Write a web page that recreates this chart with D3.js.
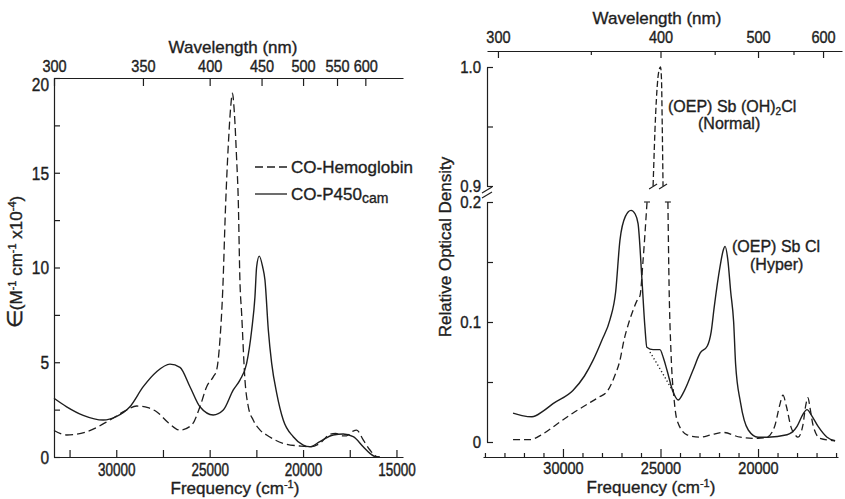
<!DOCTYPE html>
<html>
<head>
<meta charset="utf-8">
<script src="https://cdn.jsdelivr.net/npm/d3@7"></script>
<style>
  body { margin: 0; background: #fff; }
  svg { display: block; background: #fff; }
  text { stroke: #1e1e1e; stroke-width: 0.35px; }
</style>
</head>
<body>
<svg id="chart" width="845" height="499"></svg>
<script>
// ---------- data (frequency in cm-1, value) ----------
// left panel: extinction coefficient (M-1 cm-1 x 10^-4)
const nmTicksLeft = [300, 350, 400, 450, 500, 550, 600]
const freqTicksLeft = [32500, 30000, 27500, 25000, 22500, 20000, 17500, 15000]
const epsTicks = [0, 2.5, 5, 7.5, 10, 12.5, 15, 17.5, 20]

const coHemoglobin = [
	[33333, 1.4], [32655, 1.16], [31585, 1.33], [30340, 1.95], [29500, 2.45], [28910, 2.69],
	[28300, 2.6], [27840, 2.39], [27200, 1.8], [26590, 1.42], [25960, 1.69], [25520, 2.65],
	[25160, 3.71], [24800, 4.24], [24625, 4.59], [24450, 6.17], [24300, 8.8], [24150, 13.2],
	[24000, 16.5], [23880, 18.4], [23780, 19.2], [23680, 18.2], [23560, 15.8], [23470, 13.6],
	[23380, 9.3], [23290, 7.6], [23110, 4.06], [22930, 2.65], [22670, 1.95], [22300, 1.42],
	[21950, 1.16], [21060, 0.72], [20170, 0.58], [19630, 0.54], [19100, 0.72], [18570, 1.2],
	[18250, 1.25], [17900, 1.12], [17670, 1.12], [17350, 1.35], [17130, 1.42], [16780, 0.9],
	[16420, 0.37], [16060, 0.02], [15900, 0]
]

const coP450cam = [
	[33333, 3.1], [32655, 2.65], [31770, 2.2], [30700, 1.95], [30000, 2.13], [29270, 2.65],
	[28555, 3.71], [27840, 4.5], [27125, 4.9], [26590, 4.73], [26055, 3.71], [25520, 2.65],
	[24810, 2.22], [24270, 2.48], [23735, 3.54], [23380, 4.06], [23020, 4.94], [22750, 6.7],
	[22575, 8.46], [22485, 10.04], [22345, 10.6], [22165, 10.04], [22040, 9.34], [21860, 6.7],
	[21680, 4.94], [21410, 3.36], [21060, 1.95], [20525, 1.07], [19990, 0.63], [19630, 0.54],
	[19100, 0.81], [18385, 1.16], [17850, 1.21], [17315, 1.07], [16780, 0.54], [16420, 0.19],
	[16060, 0], [15900, 0]
]

// right panel: relative optical density
const nmTicksRight = [300, 350, 400, 450, 500, 550, 600]
const freqTicksRight = [34000, 33000, 32000, 31000, 30000, 29000, 28000, 27000, 26000, 25000,
	24000, 23000, 22000, 21000, 20000, 19000, 18000, 17000, 16000]
const odTicksLow = [0, 0.05, 0.1, 0.15, 0.2]
const odTicksHigh = [0.9, 0.95, 1.0]

const sbClHyper = [
	[32560, 0.024], [32100, 0.022], [31590, 0.021], [31000, 0.026], [30510, 0.032], [29490, 0.043],
	[28900, 0.055], [28460, 0.068], [28000, 0.085], [27590, 0.102], [27300, 0.125], [27080, 0.168],
	[26800, 0.188], [26510, 0.193], [26300, 0.19], [26150, 0.182], [25950, 0.135], [25800, 0.096],
	[25700, 0.079], [25380, 0.077], [25030, 0.077], [24850, 0.07], [24670, 0.06], [24360, 0.042],
	[24100, 0.035], [23800, 0.042], [23330, 0.06], [22970, 0.074], [22600, 0.08], [22400, 0.092],
	[22250, 0.112], [21950, 0.146], [21780, 0.16], [21690, 0.163], [21550, 0.152], [21400, 0.125],
	[21250, 0.1], [21150, 0.065], [20900, 0.033], [20500, 0.01], [20000, 0.004], [19500, 0.004],
	[18510, 0.006], [18000, 0.013], [17700, 0.023], [17490, 0.027], [17250, 0.022], [16920, 0.013],
	[16460, 0.004], [16050, 0.001]
]

const sbOHClNormalLeft = [
	[32560, 0.002], [31700, 0.002], [31000, 0.007], [30300, 0.015], [29500, 0.024], [28800, 0.031],
	[28200, 0.037], [27740, 0.042], [27350, 0.055], [27080, 0.068], [26870, 0.085], [26670, 0.097],
	[26400, 0.11], [26200, 0.118], [26050, 0.122], [25900, 0.15], [25690, 0.2]
]
const sbOHClNormalPeak = [
	[25380, 0.9], [25250, 0.96], [25100, 0.995], [25000, 1.0], [24950, 0.99], [24910, 0.95], [24870, 0.9]
]
const sbOHClNormalRight = [
	[24620, 0.2], [24560, 0.13], [24460, 0.074], [24300, 0.035], [24150, 0.018], [23640, 0.006],
	[23000, 0.004], [22400, 0.006], [21800, 0.008], [20900, 0.004], [20000, 0.003], [19540, 0.004],
	[19130, 0.014], [18900, 0.03], [18720, 0.039], [18550, 0.03], [18300, 0.012], [18100, 0.006],
	[17950, 0.004], [17700, 0.014], [17560, 0.03], [17440, 0.037], [17330, 0.028], [17180, 0.014],
	[16820, 0.003], [16050, 0.001]
]
const sbOHClDotted = [[25540, 0.075], [24920, 0.058], [24360, 0.042]]

// ---------- drawing ----------
const ink = '#1e1e1e'
const font = '"Liberation Sans", Arial, Helvetica, sans-serif'
const svg = d3.select('#chart').style('color', ink)

// tick labels in the scan are taller than they are wide, so stretch them vertically
function styleAxis(g, fs, k, orient) {
	g.attr('font-family', font).attr('font-size', fs)
	g.selectAll('path, line').attr('stroke-width', 1.2)
	g.selectAll('.tick text').each(function () {
		const t = d3.select(this)
		const x = +t.attr('x') || 0
		const y = +t.attr('y') || 0
		const cap = 0.72 * fs * k
		let tx = 0, ty = 0
		if (orient === 'left') { tx = x; ty = cap / 2 }
		else if (orient === 'bottom') ty = y + cap
		else ty = y
		t.attr('x', null).attr('y', null).attr('dy', null)
			.attr('transform', `translate(${tx},${ty}) scale(1,${k})`)
	})
}

function curve(x, y) {
	return d3.line().x(d => x(d[0])).y(d => y(d[1])).curve(d3.curveMonotoneX)
}

function title(x, y, str, rotate) {
	const t = svg.append('text')
		.attr('font-family', font).attr('font-size', 17).attr('fill', ink)
		.attr('text-anchor', 'middle')
	if (rotate) t.attr('transform', `translate(${x},${y}) rotate(-90)`)
	else t.attr('x', x).attr('y', y)
	return t
}

// ===== left panel =====
const xL = d3.scaleLinear().domain([33333, 14650]).range([54, 403])
const yL = d3.scaleLinear().domain([0, 20]).range([457, 78])

const topL = svg.append('g').attr('transform', 'translate(0,78)')
	.call(d3.axisTop(xL).tickValues(nmTicksLeft.map(nm => 1e7 / nm))
		.tickFormat(f => Math.round(1e7 / f)).tickSize(-8).tickSizeOuter(0).tickPadding(6))
styleAxis(topL, 14.5, 1.15, 'top')

const botL = svg.append('g').attr('transform', 'translate(0,457)')
	.call(d3.axisBottom(xL).tickValues(freqTicksLeft)
		.tickFormat(f => f % 5000 === 0 ? f : '').tickSize(-7).tickSizeOuter(0).tickPadding(6))
styleAxis(botL, 13.5, 1.3, 'bottom')

const leftL = svg.append('g').attr('transform', 'translate(54,0)')
	.call(d3.axisLeft(yL).tickValues(epsTicks)
		.tickFormat(v => v % 5 === 0 ? v : '').tickSize(-6).tickSizeOuter(0).tickPadding(5))
styleAxis(leftL, 15.5, 1.15, 'left')
// the top label sits just under the wavelength numbers in the scan
leftL.selectAll('.tick').filter(v => v === 20).select('text')
	.attr('transform', function () { return d3.select(this).attr('transform').replace(/translate\(([^,]+),([^)]+)\)/, (m, a, b) => `translate(${a},${+b + 6})`) })

svg.append('path').datum(coHemoglobin)
	.attr('d', curve(xL, yL)).attr('fill', 'none').attr('stroke', ink)
	.attr('stroke-width', 1.3).attr('stroke-dasharray', '8,4')
svg.append('path').datum(coP450cam)
	.attr('d', curve(xL, yL)).attr('fill', 'none').attr('stroke', ink)
	.attr('stroke-width', 1.4)

title(233, 53).text('Wavelength (nm)')
const fL = title(235, 494)
fL.append('tspan').text('Frequency (cm')
fL.append('tspan').attr('font-size', 11).attr('dy', -6).text('-1')
fL.append('tspan').attr('dy', 6).text(')')

const yLab = title(22, 262, '', true)
yLab.append('tspan').attr('font-size', 21).text('∈')
yLab.append('tspan').text('(M')
yLab.append('tspan').attr('font-size', 11).attr('dy', -6).text('-1')
yLab.append('tspan').attr('dy', 6).text(' cm')
yLab.append('tspan').attr('font-size', 11).attr('dy', -6).text('-1')
yLab.append('tspan').attr('dy', 6).text(' x10')
yLab.append('tspan').attr('font-size', 11).attr('dy', -6).text('-4')
yLab.append('tspan').attr('dy', 6).text(')')

// legend
const leg = svg.append('g').attr('font-family', font).attr('font-size', 17).attr('fill', ink)
leg.append('line').attr('x1', 255).attr('x2', 287).attr('y1', 167).attr('y2', 167)
	.attr('stroke', ink).attr('stroke-width', 1.3).attr('stroke-dasharray', '8,4')
leg.append('text').attr('x', 291).attr('y', 173).text('CO-Hemoglobin')
leg.append('line').attr('x1', 255).attr('x2', 287).attr('y1', 194).attr('y2', 194)
	.attr('stroke', ink).attr('stroke-width', 1.3)
const l2 = leg.append('text').attr('x', 291).attr('y', 200)
l2.append('tspan').text('CO-P450')
l2.append('tspan').attr('font-size', 14).attr('dy', 3).text('cam')

// ===== right panel =====
const xR = d3.scaleLinear().domain([34100, 15900]).range([483, 838])
const xRtop = d3.scaleLinear().domain([xR.invert(487), xR.invert(842)]).range([487, 842])
const yRlow = d3.scaleLinear().domain([0, 0.2]).range([442, 202])
const yRhigh = d3.scaleLinear().domain([0.9, 1.0]).range([186, 67])

const topR = svg.append('g').attr('transform', 'translate(0,51)')
	.call(d3.axisTop(xRtop).tickValues(nmTicksRight.map(nm => 1e7 / nm))
		.tickFormat(f => { const nm = Math.round(1e7 / f); return nm % 100 === 0 ? nm : '' })
		.tickSize(-7).tickSizeOuter(0).tickPadding(8))
topR.selectAll('.tick').filter(f => Math.round(1e7 / f) % 100 !== 0).select('line').attr('y2', 4)
styleAxis(topR, 14.5, 1.1, 'top')

const botR = svg.append('g').attr('transform', 'translate(0,457)')
	.call(d3.axisBottom(xR).tickValues(freqTicksRight)
		.tickFormat(f => f % 5000 === 0 ? f : '').tickSize(-4).tickSizeOuter(0).tickPadding(6))
botR.selectAll('.tick').filter(f => f % 5000 === 0).select('line').attr('y2', -8)
styleAxis(botR, 14.5, 1.1, 'bottom')

const lowR = svg.append('g').attr('transform', 'translate(487,0)')
	.call(d3.axisLeft(yRlow).tickValues(odTicksLow)
		.tickFormat(v => v === 0 ? '0' : (Math.round(v * 100) % 10 === 0 ? v.toFixed(1) : ''))
		.tickSize(-6).tickSizeOuter(0).tickPadding(6))
styleAxis(lowR, 15, 1.05, 'left')

const highR = svg.append('g').attr('transform', 'translate(487,0)')
	.call(d3.axisLeft(yRhigh).tickValues(odTicksHigh)
		.tickFormat(v => Math.round(v * 100) % 10 === 0 ? v.toFixed(1) : '')
		.tickSize(-6).tickSizeOuter(0).tickPadding(6))
styleAxis(highR, 15, 1.05, 'left')

// axis break marks
const brk = svg.append('g').attr('stroke', ink).attr('stroke-width', 1.1)
brk.append('line').attr('x1', 482).attr('y1', 193).attr('x2', 492).attr('y2', 187)
brk.append('line').attr('x1', 482).attr('y1', 198).attr('x2', 492).attr('y2', 192)

const lowLine = curve(xR, yRlow)
svg.append('path').datum(sbClHyper)
	.attr('d', lowLine).attr('fill', 'none').attr('stroke', ink).attr('stroke-width', 1.4)
svg.append('path').datum(sbOHClDotted)
	.attr('d', lowLine).attr('fill', 'none').attr('stroke', ink)
	.attr('stroke-width', 1.4).attr('stroke-dasharray', '1.2,2.5')
for (const part of [sbOHClNormalLeft, sbOHClNormalRight]) {
	svg.append('path').datum(part)
		.attr('d', lowLine).attr('fill', 'none').attr('stroke', ink)
		.attr('stroke-width', 1.3).attr('stroke-dasharray', '7,4')
}
svg.append('path').datum(sbOHClNormalPeak)
	.attr('d', curve(xR, yRhigh)).attr('fill', 'none').attr('stroke', ink)
	.attr('stroke-width', 1.3).attr('stroke-dasharray', '6,3')

// break marks on the curve where it crosses the gap
const cutHigh = [sbOHClNormalPeak[0], sbOHClNormalPeak[sbOHClNormalPeak.length - 1]]
const cutLow = [sbOHClNormalLeft[sbOHClNormalLeft.length - 1], sbOHClNormalRight[0]]
cutHigh.forEach(d => {
	const x = xR(d[0]), y = yRhigh(d[1])
	brk.append('line').attr('x1', x - 4).attr('y1', y + 3).attr('x2', x + 4).attr('y2', y - 2)
})
cutLow.forEach(d => {
	const x = xR(d[0]), y = yRlow(d[1])
	brk.append('line').attr('x1', x - 3).attr('y1', y).attr('x2', x + 3).attr('y2', y)
})

title(657, 24).text('Wavelength (nm)')
const fR = title(651, 493)
fR.append('tspan').text('Frequency (cm')
fR.append('tspan').attr('font-size', 11).attr('dy', -6).text('-1')
fR.append('tspan').attr('dy', 6).text(')')
title(451, 247, '', true).text('Relative Optical Density')

// annotations
const ann = svg.append('g').attr('font-family', font).attr('font-size', 16).attr('fill', ink)
const a1 = ann.append('text').attr('x', 668).attr('y', 112)
a1.append('tspan').text('(OEP) Sb (OH)')
a1.append('tspan').attr('font-size', 10).attr('dy', 3).text('2')
a1.append('tspan').attr('dy', -3).text('Cl')
ann.append('text').attr('x', 698).attr('y', 129).text('(Normal)')
ann.append('text').attr('x', 732).attr('y', 252).text('(OEP) Sb Cl')
ann.append('text').attr('x', 750).attr('y', 270).text('(Hyper)')
</script>
</body>
</html>
